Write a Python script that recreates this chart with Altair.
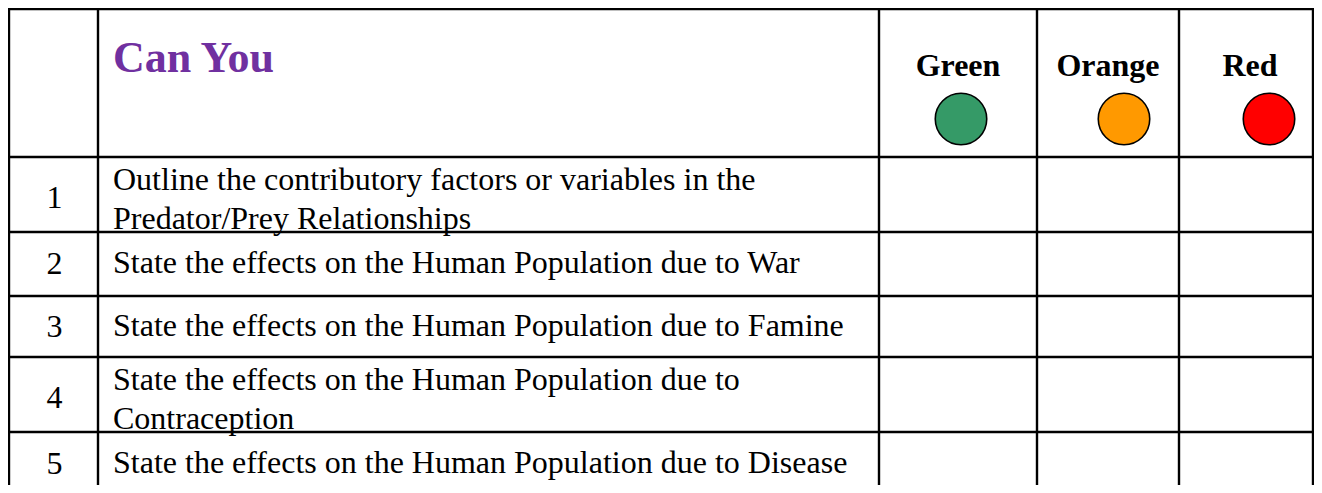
import altair as alt
import pandas as pd

# ---------------- data (table content) ----------------
row_numbers = ["1", "2", "3", "4", "5"]
statements = [
    "Outline the contributory factors or variables in the\nPredator/Prey Relationships",
    "State the effects on the Human Population due to War",
    "State the effects on the Human Population due to Famine",
    "State the effects on the Human Population due to\nContraception",
    "State the effects on the Human Population due to Disease",
]
title_text = ["Can You"]
rating_labels = ["Green", "Orange", "Red"]
rating_colors = ["#359A67", "#FF9900", "#FF0000"]

# ---------------- layout (page pixel units) ----------------
PAGE_X = [8, 1314]
PAGE_Y = [8, 485]
col_edges = [9, 98, 879, 1037, 1179, 1313]
row_edges = [9, 157, 232, 296, 357, 432, 495]
visible_bottom = 485
LINE_H = 39
FONT = "Liberation Serif"
BODY_SIZE = 32
TEXT_INDENT = 15
label_centres = [958, 1108, 1250]
circle_x = [961, 1124, 1269]
circle_y = 119
label_baseline = 76
title_baseline = 72

xs = alt.Scale(domain=PAGE_X, nice=False, zero=False)
ys = alt.Scale(domain=PAGE_Y, nice=False, zero=False, reverse=True)

# grid lines
rules = []
for x in col_edges:
    rules.append({"x": x, "x2": x, "y": row_edges[0], "y2": visible_bottom})
for y in row_edges[:-1]:
    rules.append({"x": col_edges[0], "x2": col_edges[-1], "y": y, "y2": y})
rules_df = pd.DataFrame(rules)

# body rows
body = []
for i, (num, txt) in enumerate(zip(row_numbers, statements)):
    top, bot = row_edges[i + 1], row_edges[i + 2]
    centre = (top + bot) / 2
    n = txt.count("\n") + 1
    first_base = centre + 9 - (n - 1) * LINE_H / 2 + (n - 1) * 6
    body.append({
        "num": num, "txt": txt,
        "nx": (col_edges[0] + col_edges[1]) / 2 + 1,
        "ny": centre + 10 + (n - 1) * 3,
        "tx": col_edges[1] + TEXT_INDENT,
        "ty": first_base,
    })
body_df = pd.DataFrame(body)

head_df = pd.DataFrame({
    "label": rating_labels,
    "color": rating_colors,
    "cx": label_centres,
    "circx": circle_x,
})
head_df["ly"] = label_baseline
head_df["cy"] = circle_y

title_df = pd.DataFrame({"t": title_text, "x": [col_edges[1] + TEXT_INDENT], "y": [title_baseline]})

grid = alt.Chart(rules_df).mark_rule(color="black", strokeWidth=2.4, strokeCap="square").encode(
    x=alt.X("x:Q", scale=xs, axis=None),
    x2="x2:Q",
    y=alt.Y("y:Q", scale=ys, axis=None),
    y2="y2:Q",
)

nums = alt.Chart(body_df).mark_text(
    font=FONT, fontSize=BODY_SIZE, align="center", baseline="alphabetic", color="black"
).encode(
    x=alt.X("nx:Q", scale=xs, axis=None),
    y=alt.Y("ny:Q", scale=ys, axis=None),
    text="num:N",
)

texts = alt.Chart(body_df).mark_text(
    font=FONT, fontSize=BODY_SIZE, align="left", baseline="alphabetic", color="black",
    lineBreak="\n", lineHeight=LINE_H,
).encode(
    x=alt.X("tx:Q", scale=xs, axis=None),
    y=alt.Y("ty:Q", scale=ys, axis=None),
    text="txt:N",
)

title = alt.Chart(title_df).mark_text(
    font=FONT, fontSize=44, fontWeight="bold", align="left", baseline="alphabetic", color="#7030A0"
).encode(
    x=alt.X("x:Q", scale=xs, axis=None),
    y=alt.Y("y:Q", scale=ys, axis=None),
    text="t:N",
)

labels = alt.Chart(head_df).mark_text(
    font=FONT, fontSize=32, fontWeight="bold", align="center", baseline="alphabetic", color="black"
).encode(
    x=alt.X("cx:Q", scale=xs, axis=None),
    y=alt.Y("ly:Q", scale=ys, axis=None),
    text="label:N",
)

circles = alt.Chart(head_df).mark_circle(
    size=2650, stroke="black", strokeWidth=1.6, opacity=1
).encode(
    x=alt.X("circx:Q", scale=xs, axis=None),
    y=alt.Y("cy:Q", scale=ys, axis=None),
    fill=alt.Fill("color:N", scale=None, legend=None),
)

chart = alt.layer(grid, nums, texts, title, labels, circles).properties(
    width=PAGE_X[1] - PAGE_X[0],
    height=PAGE_Y[1] - PAGE_Y[0],
    padding=0,
    autosize=alt.AutoSizeParams(type="none"),
    background="white",
).configure_view(stroke=None)

chart.save("out.html", embed_options={"renderer": "svg", "actions": False})
